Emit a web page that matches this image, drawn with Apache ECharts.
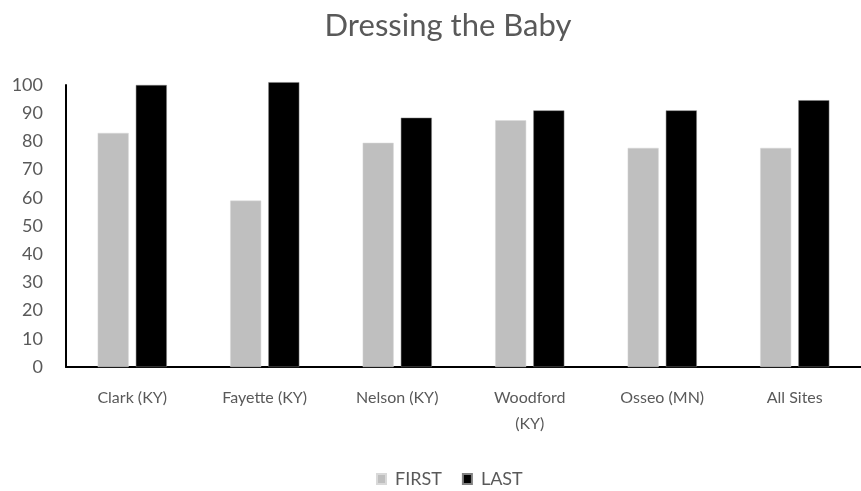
<!DOCTYPE html>
<html>
<head>
<meta charset="utf-8">
<script src="https://cdn.jsdelivr.net/npm/echarts@6/dist/echarts.min.js"></script>
<style>html,body{margin:0;padding:0;background:#fff}#c{width:861px;height:491px}</style>
</head>
<body>
<div id="c"></div>
<script>
const categories = ["Clark (KY)", "Fayette (KY)", "Nelson (KY)", "Woodford\n(KY)", "Osseo (MN)", "All Sites"];
const firstValues = [83, 59, 79.5, 87.5, 77.7, 77.7];
const lastValues = [100, 101, 88.4, 91, 91, 94.6];
const yTicks = [0, 10, 20, 30, 40, 50, 60, 70, 80, 90, 100];

const FONT = "Lato, 'Open Sans', sans-serif";
const chart = echarts.init(document.getElementById('c'), null, {renderer: 'canvas'});
chart.setOption({
  animation: false,
  title: {
    text: 'Dressing the Baby', left: 443, textAlign: 'center', top: 5,
    textStyle: {fontFamily: FONT, fontSize: 31, fontWeight: 'normal', color: '#595959'}
  },
  legend: {
    bottom: 0, left: 371, itemWidth: 9, itemHeight: 10, itemGap: 20,
    icon: 'rect', padding: [5, 5, 3, 5],
    textStyle: {fontFamily: FONT, fontSize: 18, color: '#595959', padding: [0, 0, 0, 4]},
    data: ['FIRST', 'LAST']
  },
  grid: {left: 66, right: -1, top: 85, bottom: 124, containLabel: false},
  xAxis: {
    type: 'category', data: categories,
    axisLine: {lineStyle: {color: '#000', width: 2}},
    axisTick: {show: false},
    axisLabel: {fontFamily: FONT, fontSize: 16, color: '#595959', margin: 18, lineHeight: 26}
  },
  yAxis: {
    type: 'value', min: yTicks[0], max: yTicks[yTicks.length - 1], interval: 10,
    axisLine: {show: true, lineStyle: {color: '#000', width: 2}},
    axisTick: {show: false},
    splitLine: {show: false},
    axisLabel: {fontFamily: FONT, fontSize: 18, color: '#595959', margin: 23}
  },
  series: [
    {name: 'FIRST', type: 'bar', data: firstValues, barWidth: 31, barGap: '23%', clip: false,
     itemStyle: {color: '#BFBFBF', borderColor: '#d9d9d9', borderWidth: 0.5}},
    {name: 'LAST', type: 'bar', data: lastValues, barWidth: 31, clip: false,
     itemStyle: {color: '#000000', borderColor: '#808080', borderWidth: 0.5}}
  ]
});
</script>
</body>
</html>
